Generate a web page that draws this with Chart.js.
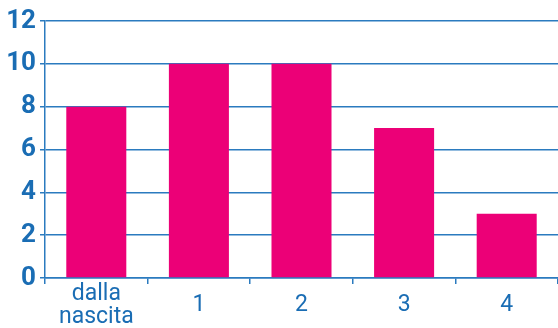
<!DOCTYPE html>
<html>
<head>
<meta charset="utf-8">
<script src="https://cdn.jsdelivr.net/npm/chart.js@4/dist/chart.umd.min.js"></script>
<style>
  html, body { margin: 0; padding: 0; background: #fff; }
  #wrap { width: 558px; height: 328px; position: relative; }
</style>
</head>
<body>
<div id="wrap"><canvas id="chart"></canvas></div>
<script>
// Bambini per età (anni)
const categories = [['dalla', 'nascita'], '1', '2', '3', '4'];
const values = [8, 10, 10, 7, 3];
const yTicks = [0, 2, 4, 6, 8, 10, 12];

const blue = '#1a6db4';
const gridBlue = '#2b7bbf';
const magenta = '#ec0077';
const fontFamily = '"Liberation Sans Narrow", Roboto, Arial';

const ctx = document.getElementById('chart').getContext('2d');
new Chart(ctx, {
    type: 'bar',
    data: {
        labels: categories,
        datasets: [{
            data: values,
            backgroundColor: magenta,
            borderWidth: 0,
            categoryPercentage: 1,
            barPercentage: 0.585
        }]
    },
    options: {
        responsive: true,
        maintainAspectRatio: false,
        animation: false,
        layout: { padding: { top: 21, right: 0, left: 0, bottom: 0 } },
        plugins: {
            legend: { display: false },
            tooltip: { enabled: false }
        },
        scales: {
            x: {
                grid: {
                    offset: true,
                    drawOnChartArea: false,
                    color: gridBlue,
                    lineWidth: 1.5,
                    tickLength: 6
                },
                border: { color: gridBlue, width: 1.5 },
                ticks: {
                    color: blue,
                    padding: 10,
                    maxRotation: 0,
                    crossAlign: 'center',
                    font: { family: fontFamily, size: 23, lineHeight: 1.0 }
                },
                afterFit: (scale) => { scale.height = 50; }
            },
            y: {
                min: 0,
                max: 12,
                afterBuildTicks: (scale) => { scale.ticks = yTicks.map(v => ({ value: v })); },
                grid: {
                    color: gridBlue,
                    lineWidth: 1.5,
                    tickLength: 5
                },
                border: { color: gridBlue, width: 1.5 },
                ticks: {
                    color: blue,
                    padding: 4,
                    font: { family: fontFamily, size: 26, weight: 'bold' }
                },
                afterFit: (scale) => { scale.width = 45; }
            }
        }
    }
});
</script>
</body>
</html>
